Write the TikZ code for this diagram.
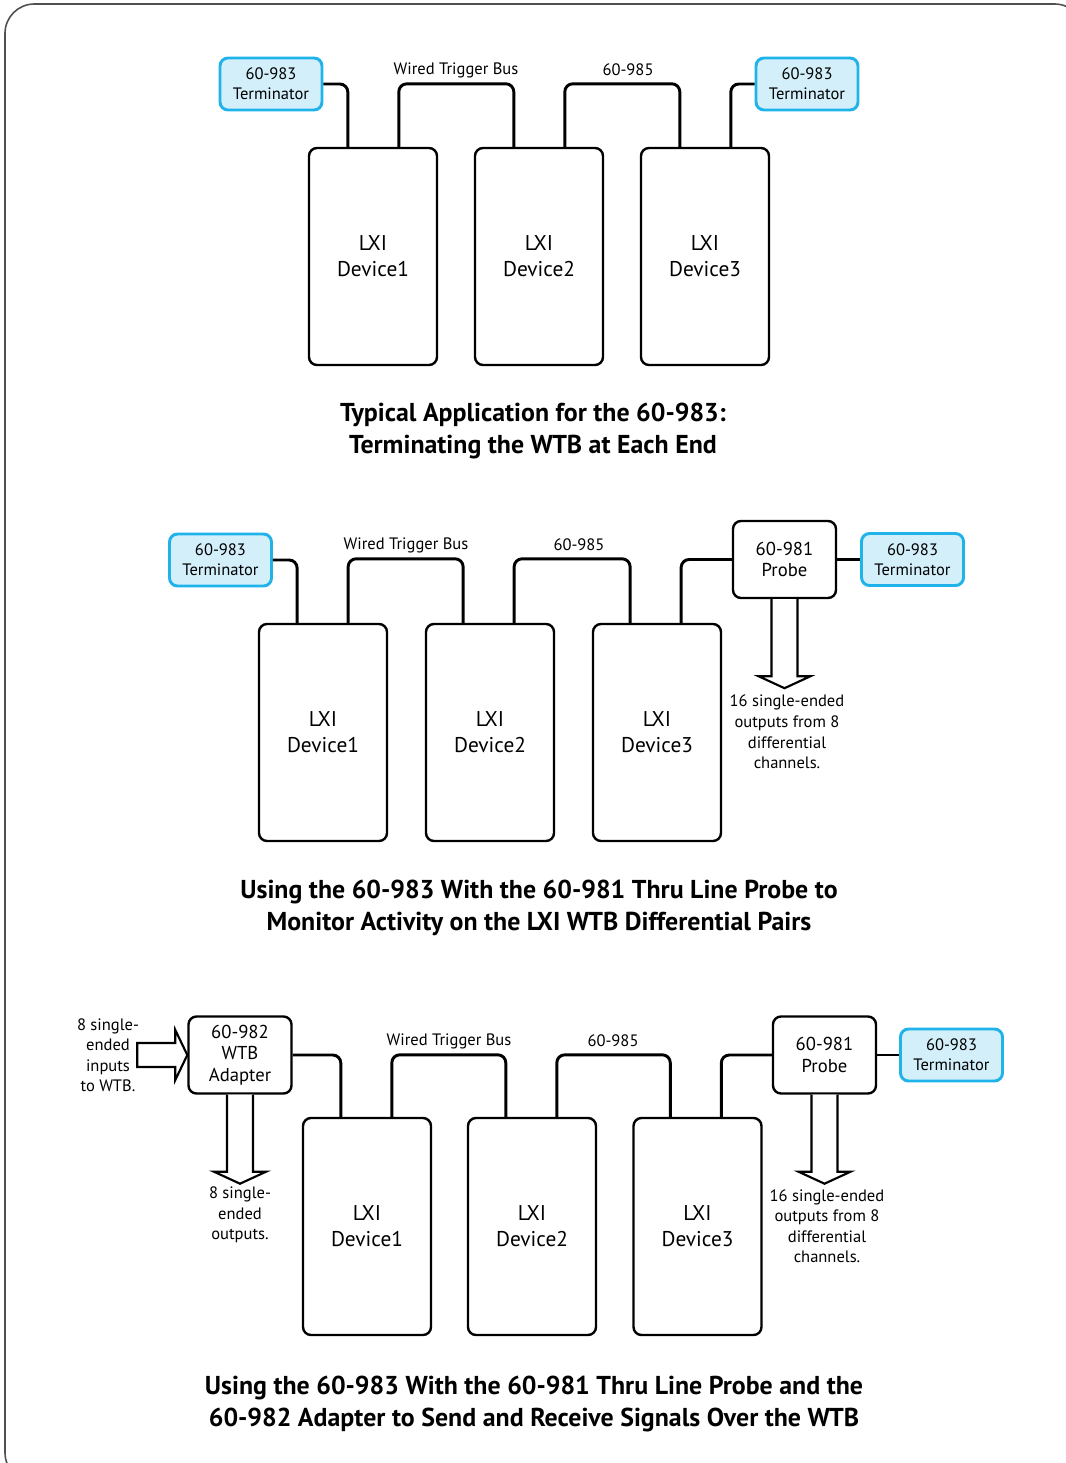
\documentclass[tikz,border=0pt]{standalone}
\usepackage{fontspec}
\setmainfont{PT Sans}
\usetikzlibrary{calc}
\definecolor{termborder}{HTML}{1FB3EA}
\definecolor{termfill}{HTML}{D2EFFA}
\definecolor{framegray}{HTML}{505050}
\begin{document}
\begin{tikzpicture}[x=0.75pt,y=-0.75pt,
  term/.style={draw=termborder, fill=termfill, line width=2.2pt, rounded corners=6pt,
    minimum width=76.5pt, minimum height=39pt, inner sep=0pt, align=center,
    font=\fontsize{12.4}{15}\selectfont},
  dev/.style={draw, line width=1.8pt, rounded corners=6pt, minimum width=96pt,
    minimum height=162.75pt, inner sep=0pt, align=center,
    font=\fontsize{16}{19.5}\selectfont},
  probe/.style={draw, line width=1.8pt, rounded corners=6pt, minimum width=77.25pt,
    minimum height=57.75pt, inner sep=0pt, align=center,
    font=\fontsize{14}{16.3}\selectfont},
  cable/.style={line width=2.2pt, rounded corners=6pt},
  lbl/.style={align=center, inner sep=0pt, font=\fontsize{12.4}{15.4}\selectfont},
  ttl/.style={align=center, inner sep=0pt, font=\bfseries\fontsize{19.4}{24}\selectfont},
  hollow/.style={draw, fill=white, line width=1.6pt, line join=miter}
]
\useasboundingbox (0,0) rectangle (1066,1463);
\draw[framegray, line width=1.2pt, rounded corners=22pt] (5,4) rectangle (1084,1482);

% ---------- Section 1 ----------
\node[term] (t1a) at (271,84) {60-983\\Terminator};
\node[term] (t1b) at (807,84) {60-983\\Terminator};
\node[dev] (d1a) at (373,256.5) {LXI\\Device1};
\node[dev] (d1b) at (539,256.5) {LXI\\Device2};
\node[dev] (d1c) at (705,256.5) {LXI\\Device3};
\node[lbl] (w1) at (456,70) {Wired Trigger Bus};
\node[lbl] (c1) at (628,70) {60-985};
\draw[cable] (t1a.east) -| ([xshift=30pt]d1a.north west);
\draw[cable] ([xshift=68.25pt]d1a.north west) -- ++(0,-63) -| ([xshift=30pt]d1b.north west);
\draw[cable] ([xshift=68.25pt]d1b.north west) -- ++(0,-63) -| ([xshift=30pt]d1c.north west);
\draw[cable] ([xshift=68.25pt]d1c.north west) |- (t1b.west);
\node[ttl] (ti1) at (533,431) {Typical Application for the 60-983:\\Terminating the WTB at Each End};

% ---------- Section 2 ----------
\node[term] (t2a) at (220.5,560) {60-983\\Terminator};
\node[dev] (d2a) at (323,732.5) {LXI\\Device1};
\node[dev] (d2b) at (490,732.5) {LXI\\Device2};
\node[dev] (d2c) at (657,732.5) {LXI\\Device3};
\node[probe] (p2) at (784.5,559.5) {60-981\\Probe};
\node[term] (t2b) at (912.5,559.5) {60-983\\Terminator};
\node[lbl] (w2) at (406,545) {Wired Trigger Bus};
\node[lbl] (c2) at (579,545) {60-985};
\draw[cable] (t2a.east) -| ([xshift=29.5pt]d2a.north west);
\draw[cable] ([xshift=67.75pt]d2a.north west) -- ++(0,-64) -| ([xshift=28.75pt]d2b.north west);
\draw[cable] ([xshift=67pt]d2b.north west) -- ++(0,-64) -| ([xshift=28.75pt]d2c.north west);
\draw[cable] ([xshift=67pt]d2c.north west) |- (p2.west);
\draw[cable] (p2.east) -- (t2b.west);
\draw[hollow] ($(p2.south)+(-13,0)$) -- ++(0,77) -- ++(-13,0) -- ++(26,12) -- ++(26,-12) -- ++(-13,0) -- ++(0,-77);
\node[lbl] (o2) at (787,732) {16 single-ended\\outputs from 8\\differential\\channels.};
\node[ttl] (ti2) at (539,908) {Using the 60-983 With the 60-981 Thru Line Probe to\\Monitor Activity on the LXI WTB Differential Pairs};

% ---------- Section 3 ----------
\node[probe] (a3) at (240,1055) {60-982\\WTB\\Adapter};
\node[dev] (d3a) at (367,1226.5) {LXI\\Device1};
\node[dev] (d3b) at (532,1226.5) {LXI\\Device2};
\node[dev] (d3c) at (697.5,1226.5) {LXI\\Device3};
\node[probe] (p3) at (824.5,1055) {60-981\\Probe};
\node[term] (t3) at (951.5,1055) {60-983\\Terminator};
\node[lbl] (w3) at (449,1041) {Wired Trigger Bus};
\node[lbl] (c3) at (613,1041) {60-985};
\draw[cable] (a3.east) -| ([xshift=29.25pt]d3a.north west);
\draw[cable] ([xshift=67.5pt]d3a.north west) -- ++(0,-62) -| ([xshift=29.25pt]d3b.north west);
\draw[cable] ([xshift=67.5pt]d3b.north west) -- ++(0,-62) -| ([xshift=28.5pt]d3c.north west);
\draw[cable] ([xshift=66.75pt]d3c.north west) |- (p3.west);
\draw[cable] (p3.east) -- (t3.west);
\draw[hollow] ($(p3.south)+(-13,0)$) -- ++(0,77) -- ++(-13,0) -- ++(26,12) -- ++(26,-12) -- ++(-13,0) -- ++(0,-77);
\node[lbl] (o3) at (827,1226) {16 single-ended\\outputs from 8\\differential\\channels.};
\draw[hollow] ($(a3.south)+(-13,0)$) -- ++(0,77) -- ++(-13,0) -- ++(26,12) -- ++(26,-12) -- ++(-13,0) -- ++(0,-77);
\node[lbl] (o3a) at (240,1215) {8 single-\\ended\\outputs.};
\draw[hollow] (a3.west) -- ++(-12,-25) -- ++(0,13) -- ++(-38,0) -- ++(0,24) -- ++(38,0) -- ++(0,13) -- cycle;
\node[lbl] (i3) at (108,1055) {8 single-\\ended\\inputs\\to WTB.};
\node[ttl] (ti3) at (534,1404) {Using the 60-983 With the 60-981 Thru Line Probe and the\\60-982 Adapter to Send and Receive Signals Over the WTB};
\end{tikzpicture}
\end{document}
